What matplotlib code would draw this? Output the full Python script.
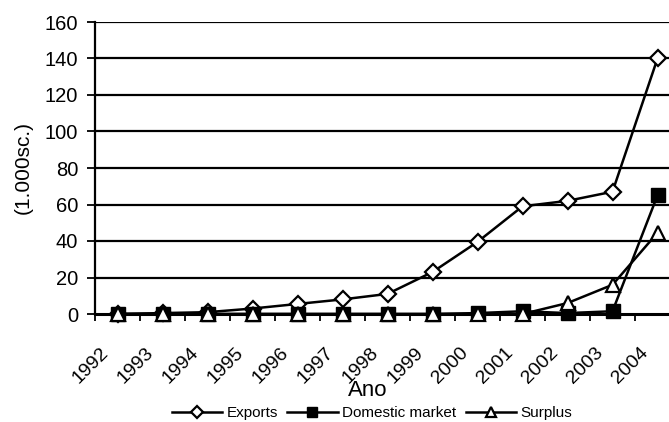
import numpy as np
import matplotlib.pyplot as plt
from matplotlib.transforms import ScaledTranslation

plt.rcParams['font.family'] = ['Liberation Sans', 'DejaVu Sans']

# data
years = ['1992', '1993', '1994', '1995', '1996', '1997', '1998',
         '1999', '2000', '2001', '2002', '2003', '2004']
exports = [0, 0.5, 1, 3, 5.5, 8, 11, 23, 39.5, 59, 62, 67, 140]
domestic = [0, 0, 0, 0, 0, 0, 0, 0, 0.5, 1.5, 0.5, 1.5, 65]
surplus = [0, 0, 0, 0, 0, 0, 0, 0, 0, 0, 6, 16, 44.5]
y_ticks = [0, 20, 40, 60, 80, 100, 120, 140, 160]

fig = plt.figure(figsize=(6.69, 4.22), dpi=100)
# plot area runs past the right edge, as in the cropped original
ax = fig.add_axes([95 / 669, 1 - 314 / 422, 585 / 669, 292 / 422])

x = np.arange(len(years))

for yv in y_ticks[1:]:
    ax.axhline(yv, color='black', lw=1.6, zorder=1)

ax.plot(x, exports, color='black', lw=1.8, marker='D', markersize=8,
        markerfacecolor='white', markeredgecolor='black', markeredgewidth=1.6,
        label='Exports', zorder=3, clip_on=False)
ax.plot(x, domestic, color='black', lw=1.8, marker='s', markersize=10,
        markerfacecolor='black', markeredgecolor='black',
        label='Domestic market', zorder=4, clip_on=False)
ax.plot(x, surplus, color='black', lw=1.8, marker='^', markersize=10,
        markerfacecolor='white', markeredgecolor='black', markeredgewidth=1.6,
        label='Surplus', zorder=5, clip_on=False)

ax.set_xlim(-0.5, len(years) - 0.5)
ax.set_ylim(0, 160)
ax.set_yticks(y_ticks)
ax.tick_params(axis='y', labelsize=14.5, length=6, width=1.3, direction='out', pad=6)

ax.set_xticks(x)
ax.set_xticklabels(years, rotation=45, ha='right', va='top',
                   rotation_mode='anchor', fontsize=14)
ax.tick_params(axis='x', which='major', length=0, pad=16)
shift = ScaledTranslation(-18 / 100, -8 / 100, fig.dpi_scale_trans)
for lab in ax.get_xticklabels():
    lab.set_transform(lab.get_transform() + shift)
ax.set_xticks(np.arange(len(years) + 1) - 0.5, minor=True)
ax.tick_params(axis='x', which='minor', length=5, width=1.3, direction='out')

for side in ['top', 'right']:
    ax.spines[side].set_visible(False)
ax.spines['left'].set_linewidth(1.6)
ax.spines['bottom'].set_linewidth(2.2)
ax.spines['bottom'].set_zorder(2)

ax.set_ylabel('(1.000sc.)', fontsize=15)
ax.yaxis.set_label_coords(-62 / 585, 0.5)
fig.text(368 / 669, 1 - 390 / 422, 'Ano', fontsize=16, ha='center', va='center')

fig.legend(loc='center', bbox_to_anchor=(372 / 669, 1 - 413 / 422), ncol=3,
           frameon=False, fontsize=11, handlelength=3.3, handletextpad=0.3,
           columnspacing=0.6, borderaxespad=0, markerscale=0.75)

fig.savefig('out.png', dpi=100)
